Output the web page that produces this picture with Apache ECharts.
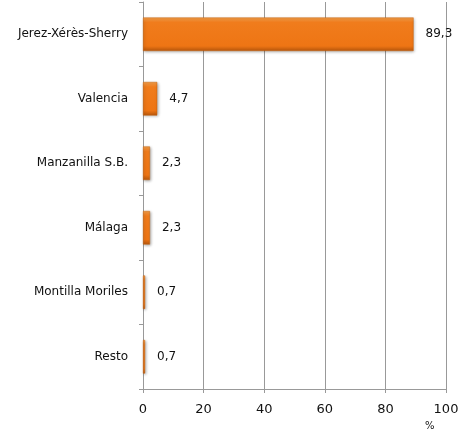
<html>
<head>
    <script src="https://cdn.jsdelivr.net/npm/echarts@6/dist/echarts.min.js"></script>
    <style>
        body { margin: 0; background: #fff; }
        #chart { width: 462px; height: 432px; }
    </style>
</head>
<body>
    <div id="chart"></div>
    <script>
        var categories = ['Jerez-Xérès-Sherry', 'Valencia', 'Manzanilla S.B.', 'Málaga', 'Montilla Moriles', 'Resto'];
        var values = [89.3, 4.7, 2.3, 2.3, 0.7, 0.7];
        var xTicks = [0, 20, 40, 60, 80, 100];

        var myChart = echarts.init(document.getElementById('chart'));
        var font = 'DejaVu Sans, sans-serif';
        var option = {
            animation: false,
            grid: { left: 143, right: 16, top: 2, bottom: 43 },
            xAxis: {
                type: 'value',
                min: xTicks[0],
                max: xTicks[xTicks.length - 1],
                interval: 20,
                axisLine: { show: true, lineStyle: { color: '#999' } },
                axisTick: { show: true, length: 4, lineStyle: { color: '#999' } },
                axisLabel: { color: '#111', fontSize: 13, fontFamily: font, margin: 14 },
                splitLine: { show: true, lineStyle: { color: '#999' } }
            },
            yAxis: {
                type: 'category',
                inverse: true,
                data: categories,
                axisLine: { show: true, lineStyle: { color: '#999' } },
                axisTick: { show: true, length: 4, lineStyle: { color: '#999' } },
                axisLabel: { color: '#111', fontSize: 12, fontFamily: font, margin: 15 }
            },
            graphic: [{
                type: 'text',
                left: 425,
                top: 421,
                style: { text: '%', fill: '#111', font: '10px ' + font }
            }],
            series: [{
                type: 'bar',
                data: values,
                barWidth: '52%',
                itemStyle: {
                    color: new echarts.graphic.LinearGradient(0, 0, 0, 1, [
                        { offset: 0, color: '#f7a04a' },
                        { offset: 0.15, color: '#f07c1c' },
                        { offset: 0.85, color: '#ee7514' },
                        { offset: 1, color: '#b8570c' }
                    ]),
                    borderColor: '#c8640f',
                    borderWidth: 0.5,
                    shadowColor: 'rgba(0,0,0,0.35)',
                    shadowBlur: 3,
                    shadowOffsetX: 1,
                    shadowOffsetY: 1
                },
                label: {
                    show: true,
                    position: 'right',
                    distance: 12,
                    color: '#111',
                    fontSize: 12,
                    fontFamily: font,
                    formatter: function (p) { return String(p.value).replace('.', ','); }
                }
            }]
        };
        myChart.setOption(option);
    </script>
</body>
</html>
